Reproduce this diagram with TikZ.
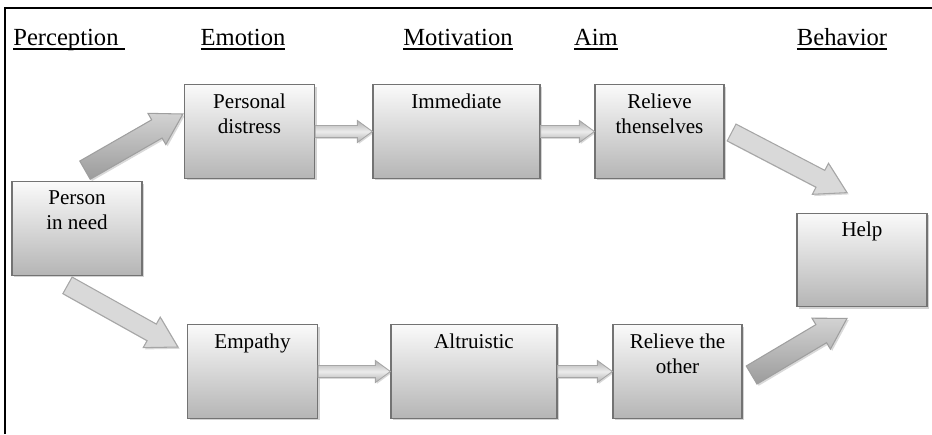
\documentclass[tikz,border=0pt]{standalone}
\usepackage{fontspec}
\setmainfont{Liberation Serif}
\usetikzlibrary{calc,shadows}

% text of a stage box, set at its top
\newcommand{\stagetext}[1]{\parbox[c][1.8cm][t]{2.3cm}{\centering\vspace{4pt}#1}}
% header with a heavy underline
\newcommand{\headline}[1]{\setbox0\hbox{#1}\rlap{\rule[-2.8pt]{\wd0}{1pt}}\box0}
% block arrow: [style]{from}{to}{half shaft}{half head}{head length}
\newcommand{\blockarrow}[6][]{%
  \coordinate (neck) at ($(#3)!#6!(#2)$);
  \path[#1] ($(#2)!#4!90:(#3)$) -- ($(neck)!#4!90:(#3)$) -- ($(neck)!#5!90:(#3)$)
    -- (#3) -- ($(neck)!#5!-90:(#3)$) -- ($(neck)!#4!-90:(#3)$) -- ($(#2)!#4!-90:(#3)$) -- cycle;
}

\tikzset{
  stagebox/.style={draw=black!55, line width=0.7pt, top color=gray!4, bottom color=gray!58,
    minimum width=2.6cm, minimum height=1.87cm, inner sep=0pt, font=\fontsize{12}{14.5}\selectfont,
    drop shadow={shadow xshift=1.2pt, shadow yshift=-1.2pt, opacity=0.35}},
  header/.style={font=\fontsize{14}{17}\selectfont, anchor=base, inner sep=0pt},
  darkarrow/.style={draw=gray!75, line width=0.6pt, top color=gray!35, bottom color=gray!78,
    drop shadow={shadow xshift=1pt, shadow yshift=-1pt, opacity=0.3}},
  lightarrow/.style={draw=gray!70, line width=0.6pt, fill=gray!30,
    drop shadow={shadow xshift=1pt, shadow yshift=-1pt, opacity=0.3}},
  smallarrow/.style={draw=gray!70, line width=0.5pt, top color=gray!62, bottom color=gray!62, middle color=gray!15,
    drop shadow={shadow xshift=0.8pt, shadow yshift=-0.8pt, opacity=0.3}}
}

\begin{document}
\begin{tikzpicture}[x=0.02cm, y=-0.02cm]
    \useasboundingbox (0,0) rectangle (932,434);
    \draw[line width=1pt] (5,434) -- (5,8) -- (932,8);

    % Headers
    \node[header, anchor=base west] (hperc) at (13,45) {\headline{Perception\ }};
    \node[header] (hemo) at (243,45) {\headline{Emotion}};
    \node[header] (hmot) at (458,45) {\headline{Motivation}};
    \node[header] (haim) at (596,45) {\headline{Aim}};
    \node[header] (hbeh) at (842,45) {\headline{Behavior}};

    % Stages
    \node[stagebox] (need) at (77,228.5) {\stagetext{Person\\in need}};
    \node[stagebox] (distress) at (249.5,131.5) {\stagetext{Personal\\distress}};
    \node[stagebox, minimum width=3.34cm] (immediate) at (456.5,131.5) {\stagetext{Immediate}};
    \node[stagebox, minimum width=2.58cm] (relself) at (659.5,131.5) {\stagetext{Relieve\\thenselves}};
    \node[stagebox] (help) at (862,260) {\stagetext{Help}};
    \node[stagebox] (empathy) at (252.5,371.5) {\stagetext{Empathy}};
    \node[stagebox, minimum width=3.32cm] (altruistic) at (474,371.5) {\stagetext{Altruistic}};
    \node[stagebox, minimum width=2.58cm] (relother) at (677.5,371.5) {\stagetext{Relieve the\\other}};

    % Arrows between stages
    \blockarrow[smallarrow]{distress.east}{immediate.west}{0.12cm}{0.22cm}{0.3cm}
    \blockarrow[smallarrow]{immediate.east}{relself.west}{0.12cm}{0.22cm}{0.3cm}
    \blockarrow[smallarrow]{empathy.east}{altruistic.west}{0.12cm}{0.22cm}{0.3cm}
    \blockarrow[smallarrow]{altruistic.east}{relother.west}{0.12cm}{0.22cm}{0.3cm}

    % Branches
    \coordinate (up-s) at ($(need.north)+(8,-11)$);
    \coordinate (up-e) at ($(distress.west)+(-1,-17.5)$);
    \coordinate (dn-s) at ($(need.south)+(-9.5,9.5)$);
    \coordinate (dn-e) at ($(empathy.west)+(-9,-24.5)$);
    \coordinate (top-s) at ($(relself.east)+(7,1)$);
    \coordinate (top-e) at ($(help.north)+(-15,-20)$);
    \coordinate (bot-s) at ($(relother.east)+(9,3.5)$);
    \coordinate (bot-e) at ($(help.south)+(-15,11)$);
    \blockarrow[darkarrow]{up-s}{up-e}{0.21cm}{0.36cm}{0.6cm}
    \blockarrow[lightarrow]{dn-s}{dn-e}{0.19cm}{0.35cm}{0.6cm}
    \blockarrow[lightarrow]{top-s}{top-e}{0.19cm}{0.35cm}{0.6cm}
    \blockarrow[darkarrow]{bot-s}{bot-e}{0.21cm}{0.36cm}{0.6cm}
\end{tikzpicture}
\end{document}
